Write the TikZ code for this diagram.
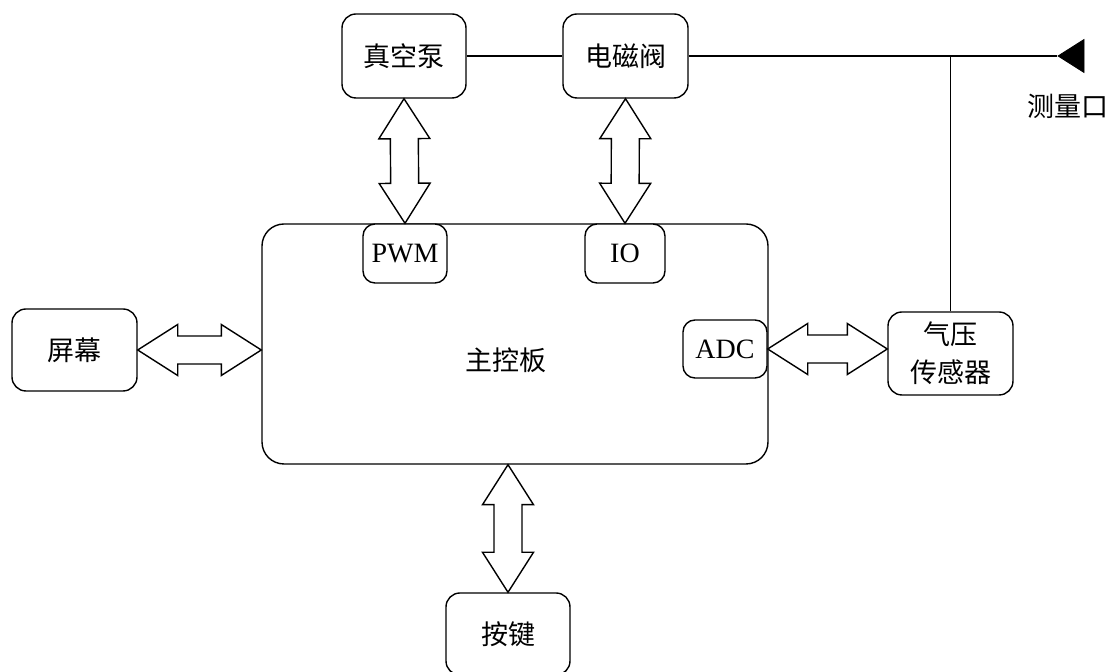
\documentclass[tikz,border=0pt]{standalone}
\usepackage{fontspec}
\setmainfont{Liberation Serif}
\newfontfamily\cjkfont{Noto Sans CJK SC}
\usetikzlibrary{calc,shapes.geometric}
\newcommand\arrHL{20pt}
\newcommand\arrHW{12.75pt}
\newcommand\arrSW{7pt}
\newcommand\dblarrow[2]{\draw[dblbody] (#1) -- ($(#1)!\arrHL!(#2)!\arrHW!90:(#2)$) -- ($(#1)!\arrHL!(#2)!\arrSW!90:(#2)$) -- ($(#2)!\arrHL!(#1)!\arrSW!-90:(#1)$) -- ($(#2)!\arrHL!(#1)!\arrHW!-90:(#1)$) -- (#2) -- ($(#2)!\arrHL!(#1)!\arrHW!90:(#1)$) -- ($(#2)!\arrHL!(#1)!\arrSW!90:(#1)$) -- ($(#1)!\arrHL!(#2)!\arrSW!-90:(#2)$) -- ($(#1)!\arrHL!(#2)!\arrHW!-90:(#2)$) -- cycle;}
\newcommand\cjksize{\cjkfont\fontsize{13.5}{19}\selectfont}
\begin{document}
\begin{tikzpicture}[x=0.5pt,y=-0.5pt,
  box/.style={draw, rounded corners=7pt, line width=0.7pt, inner sep=0pt, align=center, font=\cjksize, fill=white},
  portbox/.style={draw, rounded corners=6pt, line width=0.7pt, inner sep=0pt, font=\fontsize{14}{16}\selectfont, fill=white},
  mainbox/.style={draw, rounded corners=11pt, line width=0.7pt, inner sep=0pt},
  wire/.style={line width=0.7pt},
  dblbody/.style={draw, fill=white, line width=0.7pt, line join=miter},
  lbl/.style={inner sep=0pt, font=\cjksize}]
\useasboundingbox (0,0) rectangle (1116,672);
% boxes
\node[box, minimum width=62pt, minimum height=42pt] (vac) at (404,56) {真空泵};
\node[box, minimum width=62.5pt, minimum height=42pt] (valve) at (625.5,56) {电磁阀};
\node[mainbox, minimum width=253pt, minimum height=120pt] (main) at (515,344) {};
\node[lbl] (mainlbl) at (506,360) {主控板};
\node[portbox, minimum width=42pt, minimum height=29.5pt] (pwm) at (405,253.5) {PWM};
\node[portbox, minimum width=40pt, minimum height=29.5pt] (io) at (625,253.5) {IO};
\node[portbox, minimum width=42pt, minimum height=29pt] (adc) at (725,349) {ADC};
\node[box, minimum width=62.5pt, minimum height=41pt] (screen) at (74.5,350) {屏幕};
\node[box, minimum width=62.5pt, minimum height=41.5pt] (sensor) at (950.5,353.5) {气压\\传感器};
\node[box, minimum width=62pt, minimum height=41pt] (key) at (508,634) {按键};
% measuring port
\node[isosceles triangle, isosceles triangle stretches, shape border rotate=180, fill=black, draw=black, inner sep=0pt, minimum height=13pt, minimum width=16.5pt, anchor=apex] (port) at (1057,56) {};
\node[lbl] (portlbl) at (1068,106) {测量口};
% pipes
\draw[wire] (vac.east) -- (valve.west);
\draw[wire] (valve.east) -- (port.apex);
\coordinate (tee) at (sensor.north |- port.apex);
\draw[wire] (sensor.north) -- (tee);
% bus arrows
\dblarrow{vac.south}{pwm.north}
\dblarrow{valve.south}{io.north}
\coordinate (scrR) at (main.west |- screen.east);
\dblarrow{screen.east}{scrR}
\coordinate (senL) at (sensor.west |- adc.east);
\dblarrow{adc.east}{senL}
\coordinate (keyT) at (key.north |- main.south);
\dblarrow{keyT}{key.north}
\end{tikzpicture}
\end{document}
